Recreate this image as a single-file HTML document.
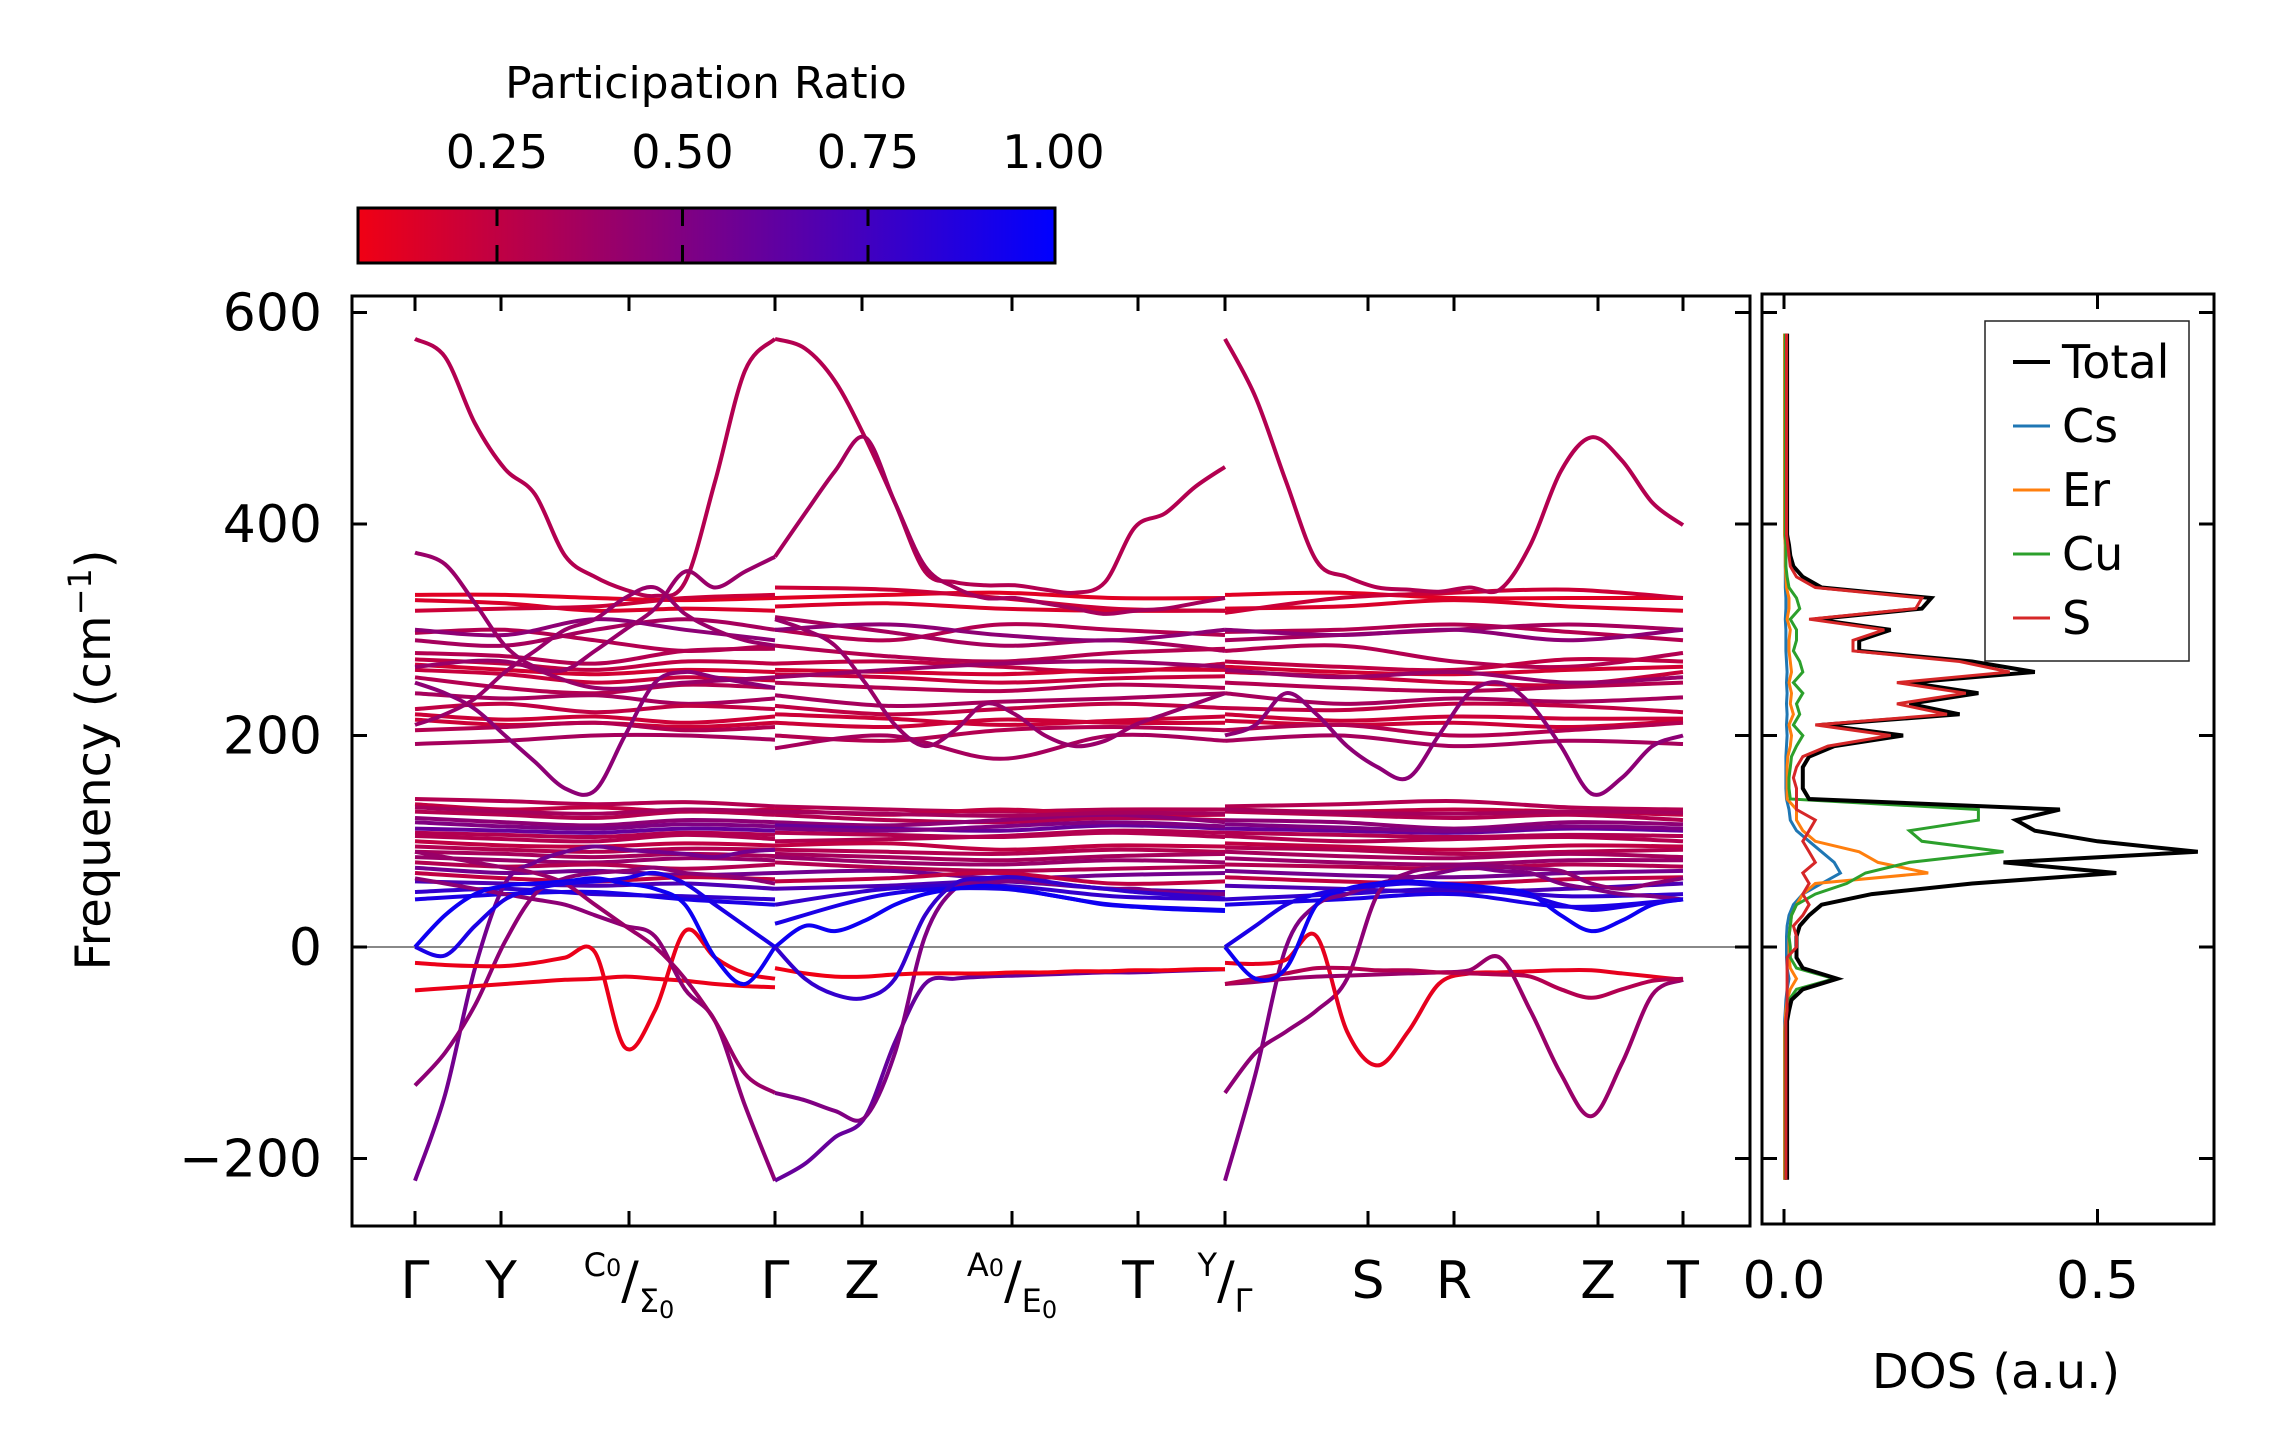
<!DOCTYPE html>
<html><head><meta charset="utf-8"><style>
html,body{margin:0;padding:0;background:#fff;}
svg{display:block;font-family:"DejaVu Sans","Liberation Sans",sans-serif;}
</style></head><body>
<svg id="fig" width="2271" height="1455" viewBox="0 0 2271 1455" xmlns="http://www.w3.org/2000/svg">
<defs>
<linearGradient id="cmap" x1="0" x2="1" y1="0" y2="0">
<stop offset="0" stop-color="rgb(240,0,20)"/><stop offset="1" stop-color="rgb(0,0,255)"/>
</linearGradient>
<clipPath id="clipMain"><rect x="352" y="296" width="1398" height="930"/></clipPath>
<clipPath id="clipDos"><rect x="1762" y="294" width="452" height="930"/></clipPath>
</defs>
<g>
<text x="706" y="98" font-size="44" text-anchor="middle">Participation Ratio</text>
<rect x="358" y="208" width="697" height="55" fill="url(#cmap)" stroke="#000" stroke-width="3"/>
<g id="cbTicks"></g>
</g>
<g id="main">
<line x1="352" x2="1750" y1="947" y2="947" stroke="#888" stroke-width="2"/>
<g id="bands" clip-path="url(#clipMain)"></g>
<rect x="352" y="296" width="1398" height="930" fill="none" stroke="#000" stroke-width="3"/>
<g id="mainTicks"></g>
<text transform="translate(110,760) rotate(-90)" font-size="48" text-anchor="middle">Frequency (cm<tspan baseline-shift="super" font-size="32">−1</tspan>)</text>
</g>
<g id="dos">
<g id="dosLines" clip-path="url(#clipDos)"></g>
<rect x="1762" y="294" width="452" height="930" fill="none" stroke="#000" stroke-width="3"/>
<g id="dosTicks"></g>
<text x="1996" y="1388" font-size="48" text-anchor="middle">DOS (a.u.)</text>
<g>
<rect x="1985" y="321" width="204" height="340" fill="#fff" stroke="#222" stroke-width="1.5"/>
<g id="legendEntries"></g>
</g>
</g>
</svg>
<script>
// ---------- data ----------
const tickK = [0, 86, 214, 360, 447, 597, 723, 810, 953, 1039, 1183, 1268];
const tickLabels = ["Γ","Y","C0/Σ0","Γ","Z","A0/E0","T","Y/Γ","S","R","Z","T"];
const yTicks = [600, 400, 200, 0, -200];
const cbTicks = [0.25, 0.5, 0.75, 1.0];
const cbTickLabels = ["0.25","0.50","0.75","1.00"];
const segA = [0, 360], segB = [360, 810], segC = [810, 1268];
// flat-ish bands: 5 nodes per segment (A,B,C)
const flatBands = [
[333,333,330,328,330, 330,333,335,330,330, 333,335,330,330,330],
[328,325,318,320,318, 322,325,320,318,318, 320,322,328,322,318],
[318,320,322,330,333, 340,338,330,320,318, 316,330,335,338,330],
[297,300,290,280,285, 300,290,305,300,295, 298,300,305,298,290],
[290,285,300,310,300, 312,298,285,290,280, 290,295,300,305,300],
[278,275,268,280,282, 285,275,270,278,282, 280,285,270,265,278],
[272,268,262,270,268, 268,270,265,260,268, 270,265,262,272,270],
[267,262,258,262,260, 262,260,258,262,262, 265,260,258,262,265],
[262,258,250,255,252, 258,255,250,254,256, 260,256,250,248,260],
[255,245,240,248,245, 250,245,242,248,245, 250,245,242,246,250],
[240,235,238,230,235, 238,228,232,235,240, 240,230,235,232,236],
[225,230,222,228,225, 228,220,225,230,226, 226,224,230,228,222],
[220,215,218,212,218, 220,216,210,214,218, 220,214,218,216,216],
[215,210,212,208,212, 212,208,215,212,212, 214,210,212,208,214],
[205,208,212,205,208, 200,195,205,208,205, 205,210,200,205,212],
[192,195,200,200,196, 188,200,178,200,195, 195,200,190,195,192],
[265,270,245,250,255, 255,262,268,270,265, 262,255,260,250,255],
[300,295,310,300,290, 300,305,295,290,300, 300,295,300,290,300],
[140,138,135,137,133, 133,130,128,130,130, 133,135,138,132,130],
[135,130,132,128,130, 130,125,130,125,125, 130,128,130,128,125],
[128,125,122,128,125, 125,120,118,122,120, 128,125,122,125,120],
[122,118,115,120,118, 118,115,120,125,118, 120,118,112,118,116],
[112,110,108,112,110, 115,112,110,115,112, 112,110,108,112,110],
[105,102,100,106,102, 100,102,105,110,108, 105,100,102,104,100],
[100,96,95,98,96, 96,98,92,96,95, 98,95,92,96,95],
[95,92,90,93,92, 92,90,88,92,90, 94,92,88,90,92],
[90,88,85,88,86, 88,85,82,86,88, 90,86,84,88,85],
[85,82,80,84,82, 85,80,78,82,80, 84,80,78,82,82],
[80,76,78,74,78, 80,75,72,74,76, 78,76,74,78,76],
[75,70,72,68,70, 70,72,65,68,70, 72,68,66,70,72],
[70,65,62,66,64, 62,65,70,60,62, 66,62,60,64,66],
[62,60,58,60,55, 55,58,62,55,52, 58,55,52,55,60],
[52,55,50,48,45, 40,55,58,48,45, 45,50,55,48,50],
[45,50,52,45,40, 22,50,55,40,35, 40,45,50,38,45],
[132,128,126,130,128, 128,126,124,127,126, 130,127,126,128,127],
[118,114,112,116,114, 112,110,114,118,114, 116,113,110,114,112],
[108,106,104,108,106, 108,106,104,108,104, 108,106,104,106,105]
];
const flatPR = [0.12,0.15,0.2,0.3,0.35,0.3,0.25,0.18,0.22,0.3,0.35,0.25,0.2,0.2,0.3,0.35,0.4,0.45,
0.3,0.25,0.3,0.45,0.6,0.3,0.25,0.3,0.35,0.4,0.3,0.55,0.25,0.7,0.8,0.9,0.35,0.5,0.3];
// prominent bands, segment A (13 nodes)
const bandsA = [
[575,558,495,452,428,370,350,338,332,345,440,545,575],
[373,362,325,285,265,262,280,300,320,355,340,355,369],
[-221,-140,-20,60,80,90,95,92,90,88,85,90,92],
[-131,-100,-55,5,50,65,70,72,75,70,68,65,60],
[-15,-17,-18,-18,-15,-10,-5,-95,-60,15,-10,-25,-30],
[-41,-39,-37,-35,-33,-31,-30,-28,-30,-32,-35,-37,-38],
[65,60,55,50,45,40,30,20,10,-40,-70,-150,-221],
[90,85,80,75,70,60,40,20,0,-30,-70,-120,-138],
[0,30,50,58,60,62,65,60,55,40,-10,-35,0],
[0,-8,20,45,55,60,62,65,70,60,40,20,0],
[250,240,225,200,175,150,148,200,250,260,255,250,245],
[210,220,235,260,280,300,310,330,340,315,300,290,285]
];
const prA = [0.3,0.4,0.55,0.45,0.08,0.08,0.45,0.4,0.95,0.9,0.45,0.4];
// segment B (16 nodes)
const bandsB = [
[575,566,535,482,420,355,345,342,342,338,335,345,397,410,435,454],
[369,410,450,482,420,360,340,330,330,325,320,315,318,320,325,330],
[-221,-205,-180,-161,-90,-35,-30,-28,-27,-26,-25,-24,-24,-23,-22,-21],
[-138,-145,-155,-161,-100,10,55,60,62,60,58,55,55,52,50,50],
[-20,-25,-28,-28,-26,-25,-25,-25,-24,-24,-23,-23,-22,-22,-21,-21],
[0,20,15,25,40,50,55,58,55,50,45,40,38,36,35,34],
[0,-30,-45,-48,-30,30,60,65,66,62,58,55,52,50,48,46],
[310,300,285,250,210,190,205,230,220,200,190,195,210,220,230,240]
];
const prB = [0.3,0.35,0.6,0.5,0.06,0.95,0.8,0.4];
// segment C (16 nodes)
const bandsC = [
[575,520,440,365,350,340,338,336,340,338,380,450,482,460,420,399],
[-221,-120,0,40,50,60,65,70,75,72,70,60,55,50,48,45],
[-138,-100,-80,-60,-30,50,70,75,78,76,74,72,60,55,60,65],
[-15,-16,-12,10,-80,-112,-80,-35,-25,-24,-23,-22,-22,-25,-28,-31],
[-35,-33,-30,-28,-27,-26,-25,-24,-22,-10,-60,-120,-160,-110,-45,-31],
[-35,-30,-25,-20,-20,-22,-22,-24,-25,-26,-28,-40,-48,-40,-32,-30],
[0,-30,-20,40,55,60,62,60,58,55,50,30,15,25,40,45],
[0,20,40,50,55,58,60,58,55,52,48,40,35,38,42,45],
[200,210,240,220,190,170,160,200,240,250,230,190,145,160,190,200]
];
const prC = [0.3,0.5,0.45,0.1,0.4,0.3,0.95,0.9,0.45];
// DOS (frequency grid -220..580 step 10)
const dosFreqStart = -220, dosFreqStep = 10;
const dosTotal = [0.005,0.005,0.005,0.005,0.005,0.005,0.005,0.005,0.005,0.005,0.005,0.005,0.005,0.005,0.005,0.005,
0.008,0.012,0.03,0.085,0.03,0.02,0.02,0.02,0.025,0.04,0.06,0.14,0.30,0.53,0.35,0.66,0.50,0.40,0.37,0.44,0.04,0.03,0.03,0.03,0.04,0.08,0.19,0.06,0.28,0.20,0.31,0.20,0.40,0.30,0.12,0.12,0.17,0.05,0.22,0.235,0.06,0.03,0.015,0.01,0.008,
0.005,0.005,0.005,0.005,0.005,0.005,0.005,0.005,0.005,0.005,0.005,0.005,0.005,0.005,0.005,0.005,0.005,0.005,0.005,0.005];
const dosS = [0.003,0.003,0.003,0.003,0.003,0.003,0.003,0.003,0.003,0.003,0.003,0.003,0.003,0.003,0.003,0.003,
0.005,0.005,0.005,0.005,0.005,0.005,0.02,0.02,0.015,0.03,0.04,0.03,0.04,0.03,0.05,0.04,0.03,0.04,0.05,0.02,0.02,0.02,0.015,0.02,0.03,0.07,0.17,0.05,0.26,0.18,0.29,0.18,0.36,0.28,0.11,0.11,0.16,0.04,0.21,0.22,0.05,0.02,0.01,0.008,0.006,
0.004,0.004,0.004,0.004,0.004,0.004,0.004,0.004,0.004,0.004,0.004,0.004,0.004,0.004,0.004,0.004,0.004,0.004,0.004,0.004];
const dosCu = [0.002,0.002,0.002,0.002,0.002,0.002,0.002,0.002,0.002,0.002,0.002,0.002,0.002,0.002,0.002,0.003,
0.005,0.008,0.02,0.08,0.02,0.01,0.01,0.008,0.01,0.012,0.02,0.05,0.10,0.13,0.20,0.35,0.22,0.20,0.31,0.31,0.01,0.008,0.008,0.01,0.012,0.02,0.03,0.015,0.025,0.02,0.03,0.015,0.03,0.025,0.015,0.02,0.02,0.01,0.025,0.02,0.008,0.005,0.003,0.003,0.003,
0.002,0.002,0.002,0.002,0.002,0.002,0.002,0.002,0.002,0.002,0.002,0.002,0.002,0.002,0.002,0.002,0.002,0.002,0.002,0.002];
const dosEr = [0.001,0.001,0.001,0.001,0.001,0.001,0.001,0.001,0.001,0.001,0.001,0.001,0.001,0.001,0.001,0.002,
0.003,0.005,0.01,0.02,0.01,0.008,0.008,0.008,0.01,0.012,0.02,0.03,0.05,0.23,0.15,0.12,0.05,0.03,0.02,0.02,0.005,0.005,0.005,0.005,0.006,0.01,0.012,0.008,0.015,0.01,0.012,0.008,0.012,0.01,0.008,0.008,0.01,0.005,0.008,0.008,0.004,0.003,0.002,0.002,0.002,
0.001,0.001,0.001,0.001,0.001,0.001,0.001,0.001,0.001,0.001,0.001,0.001,0.001,0.001,0.001,0.001,0.001,0.001,0.001,0.001];
const dosCs = [0.001,0.001,0.001,0.001,0.001,0.001,0.001,0.001,0.001,0.001,0.001,0.001,0.001,0.001,0.001,0.001,
0.002,0.003,0.005,0.008,0.005,0.004,0.004,0.004,0.005,0.008,0.015,0.03,0.06,0.09,0.08,0.06,0.04,0.02,0.01,0.008,0.004,0.003,0.003,0.003,0.003,0.004,0.005,0.004,0.005,0.004,0.005,0.004,0.005,0.004,0.003,0.003,0.003,0.002,0.003,0.003,0.002,0.002,0.002,0.002,0.002,
0.001,0.001,0.001,0.001,0.001,0.001,0.001,0.001,0.001,0.001,0.001,0.001,0.001,0.001,0.001,0.001,0.001,0.001,0.001,0.001];
const dosXTicks = [0, 0.5];
const dosXTickLabels = ["0.0","0.5"];
const legendNames = ["Total","Cs","Er","Cu","S"];

// ---------- scales ----------
const NS = "http://www.w3.org/2000/svg";
const yS = f => 947 - f * 1.0575;
const xK = k => 415 + k;
const xD = v => 1784 + v * 627;
const cbX = v => 497 + (v - 0.25) * 742;
function prColor(p){ const t = Math.max(0, Math.min(1, (p - 0.061) / 0.939)); return `rgb(${Math.round(240*(1-t))},0,${Math.round(20+235*t)})`; }
function mk(tag, attrs, parent){ const e = document.createElementNS(NS, tag); for (const k in attrs) e.setAttribute(k, attrs[k]); parent.appendChild(e); return e; }
function smoothPath(pts){
  let d = `M${pts[0][0].toFixed(1)},${pts[0][1].toFixed(1)}`;
  for (let i = 0; i < pts.length - 1; i++){
    const p0 = pts[Math.max(0,i-1)], p1 = pts[i], p2 = pts[i+1], p3 = pts[Math.min(pts.length-1,i+2)];
    const c1 = [p1[0] + (p2[0]-p0[0])/6, p1[1] + (p2[1]-p0[1])/6];
    const c2 = [p2[0] - (p3[0]-p1[0])/6, p2[1] - (p3[1]-p1[1])/6];
    d += ` C${c1[0].toFixed(1)},${c1[1].toFixed(1)} ${c2[0].toFixed(1)},${c2[1].toFixed(1)} ${p2[0].toFixed(1)},${p2[1].toFixed(1)}`;
  }
  return d;
}
const gB = document.getElementById('bands');
function drawBand(seg, vals, pr){
  const n = vals.length;
  const pts = vals.map((v,i) => [xK(seg[0] + i*(seg[1]-seg[0])/(n-1)), yS(v)]);
  const p = mk('path', {d: smoothPath(pts), fill:'none', stroke: prColor(pr), 'stroke-width': 4}, gB);
  
  
}
flatBands.forEach((b,i) => {
  drawBand(segA, b.slice(0,5), flatPR[i]);
  drawBand(segB, b.slice(5,10), flatPR[i]);
  drawBand(segC, b.slice(10,15), flatPR[i]);
});
bandsA.forEach((b,i) => drawBand(segA, b, prA[i]));
bandsB.forEach((b,i) => drawBand(segB, b, prB[i]));
bandsC.forEach((b,i) => drawBand(segC, b, prC[i]));

// main ticks
const gT = document.getElementById('mainTicks');
tickK.forEach((k,i) => {
  const x = xK(k);
  const t1 = mk('line', {x1:x,x2:x,y1:1226,y2:1211,stroke:'#000','stroke-width':3}, gT);
   
  const t2 = mk('line', {x1:x,x2:x,y1:296,y2:311,stroke:'#000','stroke-width':3}, gT);
   
  const lab = tickLabels[i];
  const tx = mk('text', {x:x, y:1298, 'font-size':52, 'text-anchor':'middle'}, gT);
   
  if (lab.includes('/')){
    const [a,b] = lab.split('/');
    const big = s => s.replace('0','');
    let s1 = mk('tspan', {'font-size':32, dy:-22}, tx); s1.textContent = big(a);
    if (a.includes('0')){ let z = mk('tspan', {'font-size':24}, tx); z.textContent = '0'; }
    let sl = mk('tspan', {'font-size':52, dy:22}, tx); sl.textContent = '/';
    let s2 = mk('tspan', {'font-size':32, dy:14}, tx); s2.textContent = big(b);
    if (b.includes('0')){ let z = mk('tspan', {'font-size':24, dy:6}, tx); z.textContent = '0'; }
  } else tx.textContent = lab;
});
yTicks.forEach(v => {
  const y = yS(v);
  const a = mk('line', {x1:352,x2:367,y1:y,y2:y,stroke:'#000','stroke-width':3}, gT);
   
  const b = mk('line', {x1:1750,x2:1735,y1:y,y2:y,stroke:'#000','stroke-width':3}, gT);
   
  const t = mk('text', {x:322, y:y+18, 'font-size':52, 'text-anchor':'end'}, gT);
   
  t.textContent = v < 0 ? '−' + Math.abs(v) : String(v);
});

// colorbar ticks
const gC = document.getElementById('cbTicks');
cbTicks.forEach((v,i) => {
  const x = cbX(v);
  if (v < 1){
    const a = mk('line', {x1:x,x2:x,y1:208,y2:226,stroke:'#000','stroke-width':3}, gC);
     
    const b = mk('line', {x1:x,x2:x,y1:245,y2:263,stroke:'#000','stroke-width':3}, gC);
     
  }
  const t = mk('text', {x:x, y:168, 'font-size':46, 'text-anchor':'middle'}, gC);
   
  t.textContent = cbTickLabels[i];
});

// DOS
const gD = document.getElementById('dosLines');
const dosSeries = [dosCs, dosEr, dosCu, dosTotal, dosS];
const dosColors = ['#1f77b4','#ff7f0e','#2ca02c','#000000','#d62728'];
const dosNames = ['dos-cs','dos-er','dos-cu','dos-total','dos-s'];
dosSeries.forEach((arr,si) => {
  const pts = arr.map((v,i) => `${xD(v).toFixed(1)},${yS(dosFreqStart + i*dosFreqStep).toFixed(1)}`).join(' ');
  const p = mk('polyline', {points: pts, fill:'none', stroke: dosColors[si], 'stroke-width': si===3 ? 4 : 3}, gD);
  
  
});
const gDT = document.getElementById('dosTicks');
yTicks.forEach(v => {
  const y = yS(v);
  const a = mk('line', {x1:1762,x2:1777,y1:y,y2:y,stroke:'#000','stroke-width':3}, gDT);
   
  const b = mk('line', {x1:2214,x2:2199,y1:y,y2:y,stroke:'#000','stroke-width':3}, gDT);
   
});
dosXTicks.forEach((v,i) => {
  const x = xD(v);
  const a = mk('line', {x1:x,x2:x,y1:1224,y2:1209,stroke:'#000','stroke-width':3}, gDT);
   
  const b = mk('line', {x1:x,x2:x,y1:294,y2:309,stroke:'#000','stroke-width':3}, gDT);
   
  const t = mk('text', {x:x, y:1298, 'font-size':52, 'text-anchor':'middle'}, gDT);
   
  t.textContent = dosXTickLabels[i];
});
// legend
const gL = document.getElementById('legendEntries');
const legColors = ['#000000','#1f77b4','#ff7f0e','#2ca02c','#d62728'];
legendNames.forEach((nm,i) => {
  const y = 362 + i*64;
  const l = mk('line', {x1:2013,x2:2050,y1:y,y2:y,stroke:legColors[i],'stroke-width':i===0?4:3}, gL);
   
  const t = mk('text', {x:2062, y:y+16, 'font-size':46}, gL);
   
  t.textContent = nm;
});
</script>
</body></html>
